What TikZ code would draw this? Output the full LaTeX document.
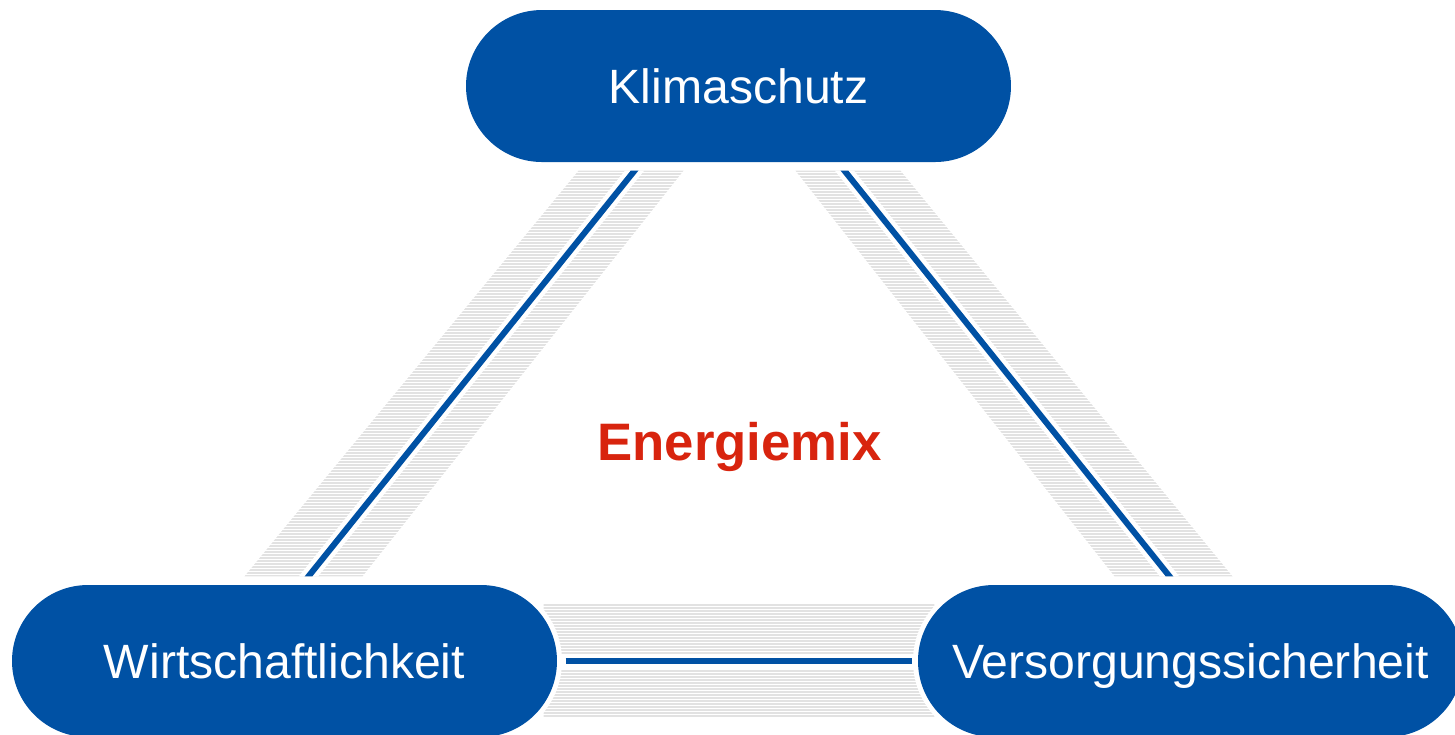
\documentclass[tikz,border=0pt]{standalone}
\usepackage{fontspec}
\setmainfont{Liberation Sans}
\usetikzlibrary{shapes.misc}
\usetikzlibrary{calc}
\usetikzlibrary{backgrounds}
\usetikzlibrary{positioning}
\definecolor{kblue}{RGB}{0, 81, 164}
\definecolor{kred}{RGB}{216, 36, 14}
\definecolor{kgray}{RGB}{226, 226, 226}
\tikzset{pill/.style = {rounded rectangle, fill=kblue, text=white,
                        preaction={draw=white, line width=1mm},
                        minimum width=54.5mm, minimum height=15.2mm, inner sep=0pt,
                        text depth=0pt,
                        font=\fontsize{13.7}{16}\selectfont},
         stripe/.style = {kgray, line width=0.16mm},
         gapline/.style = {white, line width=1.5mm},
         link/.style = {kblue, line width=0.6mm}}

\begin{document}
\begin{tikzpicture}[x=0.1mm, y=-0.1mm]
      \useasboundingbox (0, 0) rectangle (1455, 734);

      \node [pill] (klima) at (738.5, 86) {Klimaschutz};
      \node [pill] (wirt) at (284.5, 661) {Wirtschaftlichkeit};
      \node [pill] (vers) at (1190.5, 661) {Versorgungssicherheit};

      \node [text=kred, font=\bfseries\fontsize{15}{18}\selectfont] (mix) at (739.5, 447) {Energiemix};

      \coordinate (kl) at ($(klima.south)+(-104, 8)$);
      \coordinate (kr) at ($(klima.south)+(106, 8)$);
      \coordinate (wt) at ($(wirt.north)+(24, -8)$);
      \coordinate (vt) at ($(vers.north)+(-21, -8)$);
      \coordinate (we) at ($(wirt.east)+(8, 0)$);
      \coordinate (ve) at ($(vers.west)+(-5, 0)$);

      \begin{scope}[on background layer]
        \begin{scope}
          \clip ($(kl)+(-56, 0)$) -- ($(kl)+(49, 0)$) -- ($(wt)+(54, 0)$) -- ($(wt)+(-64, 0)$) -- cycle;
          \foreach \y in {171, 174, ..., 577}
            \draw [stripe] (200, \y) -- (750, \y);
          \draw [gapline] ($(kl)!-0.1!(wt)$) -- ($(kl)!1.1!(wt)$);
          \draw [link] ($(kl)!-0.1!(wt)$) -- ($(kl)!1.1!(wt)$);
        \end{scope}

        \begin{scope}
          \clip ($(kr)+(-49, 0)$) -- ($(kr)+(56, 0)$) -- ($(vt)+(63, 0)$) -- ($(vt)+(-55, 0)$) -- cycle;
          \foreach \y in {171, 174, ..., 577}
            \draw [stripe] (750, \y) -- (1300, \y);
          \draw [gapline] ($(kr)!-0.1!(vt)$) -- ($(kr)!1.1!(vt)$);
          \draw [link] ($(kr)!-0.1!(vt)$) -- ($(kr)!1.1!(vt)$);
        \end{scope}

        \begin{scope}
          \clip ($(we)+(-22, -57)$) rectangle ($(ve)+(22, 56)$);
          \foreach \y in {605, 608, ..., 717}
            \draw [stripe] (500, \y) -- (980, \y);
          \draw [gapline] ($(we)+(-30, 0)$) -- ($(ve)+(30, 0)$);
        \end{scope}
        \draw [link] (we) -- (ve);
      \end{scope}
    \end{tikzpicture}
\end{document}
